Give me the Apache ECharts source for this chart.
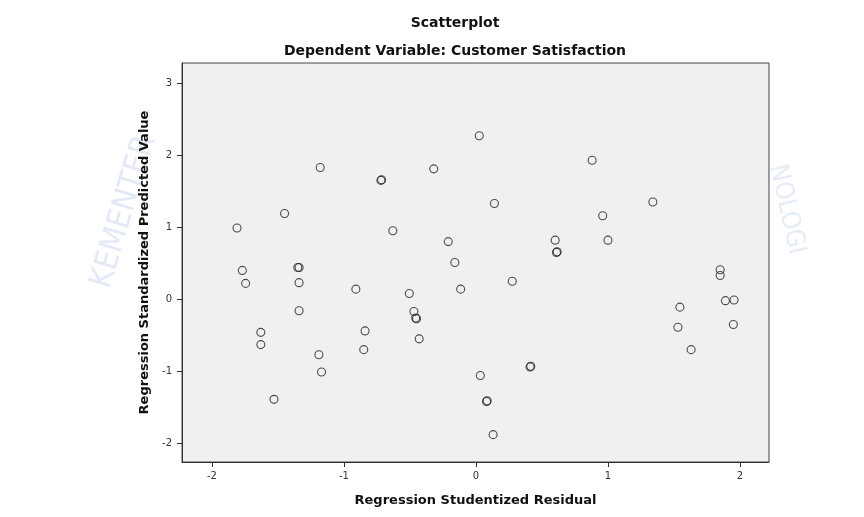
<!DOCTYPE html>
<html>
<head>
<meta charset="utf-8">
<script src="https://cdn.jsdelivr.net/npm/echarts@6/dist/echarts.min.js"></script>
<style>
  html, body { margin: 0; padding: 0; background: #fff; }
  #chart { width: 864px; height: 517px; }
</style>
</head>
<body>
<div id="chart"></div>
<script>
// studentized residual (x) vs standardized predicted value (y)
const residuals = [
  -1.81, -1.77, -1.745, -1.45, -1.18, -1.35, -1.34, -1.34, -1.34,
  -1.63, -1.63, -1.53, -1.19, -1.17, -0.91, -0.84, -0.85,
  -0.72, -0.715, -0.63, -0.32, -0.21, -0.16, -0.116,
  -0.505, -0.47, -0.457, -0.45, -0.43,
  0.025, 0.14, 0.275, 0.033, 0.08, 0.085, 0.13, 0.41, 0.415,
  0.60, 0.61, 0.615, 0.88, 0.96, 1.00, 1.34,
  1.545, 1.53, 1.63, 1.85, 1.85, 1.89, 1.955, 1.95
];
const predicted = [
  0.99, 0.40, 0.22, 1.19, 1.83, 0.44, 0.44, 0.23, -0.16,
  -0.46, -0.63, -1.39, -0.77, -1.01, 0.14, -0.44, -0.70,
  1.65, 1.66, 0.95, 1.81, 0.80, 0.51, 0.14,
  0.08, -0.17, -0.26, -0.27, -0.55,
  2.27, 1.33, 0.25, -1.06, -1.42, -1.41, -1.88, -0.94, -0.93,
  0.82, 0.65, 0.66, 1.93, 1.16, 0.82, 1.35,
  -0.11, -0.39, -0.70, 0.41, 0.33, -0.02, -0.01, -0.35
];
const xTicks = [-2, -1, 0, 1, 2];
const yTicks = [-2, -1, 0, 1, 2, 3];

const points = residuals.map((r, i) => [r, predicted[i]]);

const chart = echarts.init(document.getElementById('chart'));
const font = 'DejaVu Sans';

chart.setOption({
  animation: false,
  // faint watermark behind the plot
  graphic: [
    {
      type: 'text', left: 86, top: 132, rotation: 1.28, z: -10,
      style: { text: 'KEMENTER', fontFamily: 'DejaVu Sans Condensed', fontSize: 32, fill: '#e3e9f6' }
    },
    {
      type: 'text', left: 764, top: 162, rotation: -1.35, z: -10,
      style: { text: 'NOLOGI', fontFamily: 'DejaVu Sans Condensed', fontSize: 26, fill: '#e6ecf8' }
    }
  ],
  title: [
    {
      text: 'Scatterplot',
      left: 450, top: 11, textAlign: 'center',
      textStyle: { fontFamily: font, fontSize: 14, fontWeight: 'bold', color: '#111' }
    },
    {
      text: 'Dependent Variable: Customer Satisfaction',
      left: 450, top: 39, textAlign: 'center',
      textStyle: { fontFamily: font, fontSize: 14, fontWeight: 'bold', color: '#111' }
    }
  ],
  grid: {
    left: 182, top: 63, right: 95, bottom: 55,
    show: true, backgroundColor: '#f0f0f0', borderColor: '#444', borderWidth: 1
  },
  xAxis: {
    type: 'value', min: -2.227, max: 2.22,
    name: 'Regression Studentized Residual',
    nameLocation: 'middle', nameGap: 32,
    nameTextStyle: { fontFamily: font, fontSize: 13, fontWeight: 'bold', color: '#111' },
    axisLine: { show: true, onZero: false, lineStyle: { color: '#333' } },
    splitLine: { show: false },
    axisLabel: {
      fontFamily: font, fontSize: 10, color: '#333', margin: 9,
      customValues: xTicks, formatter: v => String(v)
    },
    axisTick: { show: true, length: 5, customValues: xTicks, lineStyle: { color: '#333' } }
  },
  yAxis: {
    type: 'value', min: -2.26, max: 3.28,
    name: 'Regression Standardized Predicted Value',
    nameLocation: 'middle', nameGap: 29,
    nameTextStyle: { fontFamily: font, fontSize: 13, fontWeight: 'bold', color: '#111' },
    axisLine: { show: true, onZero: false, lineStyle: { color: '#333' } },
    splitLine: { show: false },
    axisLabel: {
      fontFamily: font, fontSize: 10, color: '#333', margin: 10,
      customValues: yTicks, formatter: v => String(v)
    },
    axisTick: { show: true, length: 5, customValues: yTicks, lineStyle: { color: '#333' } }
  },
  series: [{
    type: 'scatter',
    data: points,
    symbol: 'circle',
    symbolSize: 8,
    itemStyle: { color: 'rgba(0,0,0,0)', borderColor: '#222', borderWidth: 1.1 }
  }]
});
</script>
</body>
</html>
